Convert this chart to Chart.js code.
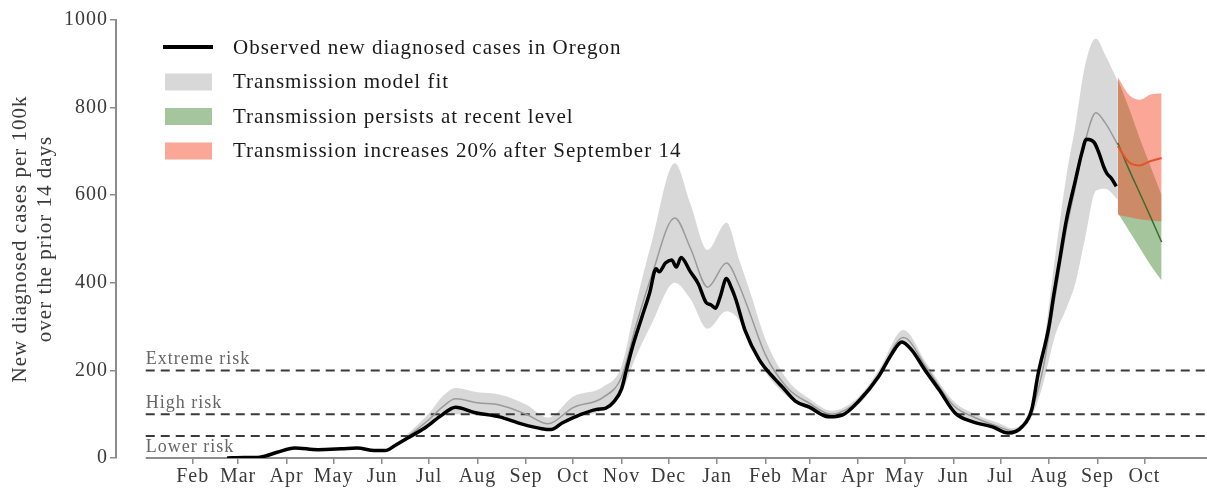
<!DOCTYPE html>
<html>
<head>
<meta charset="utf-8">
<script src="https://cdn.jsdelivr.net/npm/chart.js@4/dist/chart.umd.min.js"></script>
<style>
  html, body { margin: 0; padding: 0; background: #fff; }
  canvas { display: block; }
</style>
</head>
<body>
<canvas id="oregonChart" width="1207" height="490"></canvas>
<script>
// observed 14-day case rate per 100k
const obsDates = ['2020-02-23','2020-03-05','2020-03-15','2020-03-26','2020-04-06','2020-04-21','2020-05-06','2020-05-16','2020-05-27','2020-06-03',
  '2020-06-09','2020-06-17','2020-06-28','2020-07-08','2020-07-18','2020-07-30','2020-08-15','2020-08-29','2020-09-11','2020-09-17',
  '2020-09-24','2020-10-05','2020-10-16','2020-10-22','2020-10-27','2020-11-01','2020-11-04','2020-11-08','2020-11-14','2020-11-19',
  '2020-11-23','2020-11-25','2020-11-29','2020-12-03','2020-12-06','2020-12-09','2020-12-15','2020-12-20','2020-12-25','2020-12-28',
  '2020-12-31','2021-01-03','2021-01-07','2021-01-10','2021-01-13','2021-01-19','2021-01-28','2021-02-07','2021-02-11','2021-02-20',
  '2021-03-01','2021-03-13','2021-03-22','2021-04-02','2021-04-14','2021-04-23','2021-04-29','2021-05-05','2021-05-14','2021-05-23',
  '2021-06-02','2021-06-13','2021-06-26','2021-07-06','2021-07-15','2021-07-21','2021-07-25','2021-08-01','2021-08-04','2021-08-08',
  '2021-08-12','2021-08-18','2021-08-22','2021-08-25','2021-08-30','2021-09-02','2021-09-05','2021-09-07','2021-09-10','2021-09-13'];
const obsValues = [0, 1, 2, 13, 23, 19, 21, 23, 17, 17,
  28, 45, 68, 95, 116, 104, 94, 78, 67, 65,
  80, 98, 111, 114, 128, 158, 200, 254, 322, 378,
  432, 425, 445, 452, 436, 458, 425, 398, 355, 350,
  342, 368, 410, 390, 362, 290, 224, 180, 165, 130,
  116, 94, 98, 132, 185, 240, 265, 248, 200, 155,
  103, 83, 71, 57, 72, 110, 190, 300, 370, 455,
  540, 635, 696, 728, 720, 696, 665, 650, 638, 620];

// transmission model fit (mean and band)
const fitDates = ['2020-06-15','2020-07-01','2020-07-10','2020-07-18','2020-08-01','2020-08-15','2020-09-01','2020-09-15','2020-10-01','2020-10-20',
  '2020-11-01','2020-11-10','2020-11-20','2020-12-05','2020-12-15','2020-12-26','2021-01-07','2021-01-15','2021-01-22','2021-02-01',
  '2021-02-15','2021-03-01','2021-03-15','2021-04-01','2021-04-15','2021-04-30','2021-05-15','2021-06-01','2021-06-15','2021-07-01',
  '2021-07-08','2021-07-20','2021-07-28','2021-08-05','2021-08-12','2021-08-18','2021-08-24','2021-08-31','2021-09-06','2021-09-14'];
const fitMean = [42, 88, 118, 135, 126, 121, 100, 78, 115, 138,
  185, 300, 414, 548, 479, 390, 445, 395, 330, 235,
  160, 125, 100, 130, 195, 275, 205, 120, 92, 70,
  62, 100, 200, 370, 520, 620, 720, 788, 765, 715];
const fitUpper = [47, 102, 142, 160, 150, 145, 122, 92, 140, 162,
  210, 350, 490, 673, 580, 475, 537, 454, 380, 270,
  178, 135, 108, 138, 205, 292, 215, 130, 100, 78,
  68, 112, 240, 460, 640, 760, 895, 958, 920, 860];
const fitLower = [37, 74, 96, 100, 98, 92, 78, 64, 92, 110,
  150, 230, 305, 400, 363, 295, 335, 315, 260, 195,
  140, 110, 90, 120, 183, 260, 193, 105, 82, 62,
  55, 88, 165, 280, 340, 400, 500, 610, 615, 590];

// projections after September 14
const projDates = ['2021-09-14','2021-09-21','2021-09-28','2021-10-05','2021-10-12'];
const persistMean = [719, 660, 605, 550, 493];
const persistUpper = [865, 800, 730, 665, 600];
const persistLower = [560, 520, 480, 440, 405];
const increaseMean = [712, 676, 668, 678, 685];
const increaseUpper = [870, 830, 818, 830, 833];
const increaseLower = [555, 550, 545, 542, 540];

// risk thresholds
const riskLevels = [200, 100, 50];
const riskLabels = ['Extreme risk', 'High risk', 'Lower risk'];

// axis ticks
const monthTicks = ['2020-02-01','2020-03-01','2020-04-01','2020-05-01','2020-06-01','2020-07-01','2020-08-01','2020-09-01','2020-10-01','2020-11-01',
  '2020-12-01','2021-01-01','2021-02-01','2021-03-01','2021-04-01','2021-05-01','2021-06-01','2021-07-01','2021-08-01','2021-09-01','2021-10-01'];
const monthLabels = ['Feb','Mar','Apr','May','Jun','Jul','Aug','Sep','Oct','Nov','Dec','Jan','Feb','Mar','Apr','May','Jun','Jul','Aug','Sep','Oct'];
const yTicks = [0, 200, 400, 600, 800, 1000];

const legendLabels = ['Observed new diagnosed cases in Oregon', 'Transmission model fit',
  'Transmission persists at recent level', 'Transmission increases 20% after September 14'];

const xStart = '2019-12-14';
const xAxisStart = '2020-01-02';
const xEnd = '2021-11-10';

const ORIGIN = Date.parse('2020-02-01');
function dayNum(s) { return (Date.parse(s) - ORIGIN) / 86400000; }
function pts(dates, vals) { return dates.map((d, i) => ({ x: dayNum(d), y: vals[i] })); }

const FONT = "'Liberation Serif', 'Times New Roman', serif";
const GREY_FILL = 'rgba(190,190,190,0.6)';
const GREEN_FILL = 'rgba(76,140,60,0.5)';
const RED_FILL = 'rgba(245,80,50,0.5)';

function band(dates, upper, lower, color, order) {
  return [
    { data: pts(dates, upper), borderWidth: 0, pointRadius: 0, fill: '+1', backgroundColor: color, order: order, cubicInterpolationMode: 'monotone' },
    { data: pts(dates, lower), borderWidth: 0, pointRadius: 0, fill: false, order: order, cubicInterpolationMode: 'monotone' }
  ];
}

const riskSets = riskLevels.map(v => ({
  data: [{ x: dayNum(xAxisStart), y: v }, { x: dayNum(xEnd), y: v }],
  borderColor: '#3a3a3a', borderWidth: 2, borderDash: [9, 6], pointRadius: 0, fill: false, order: 5
}));

// extra drawing: wider letter spacing, x spine, risk labels, legend
const decorPlugin = {
  id: 'decor',
  beforeLayout(chart) { chart.ctx.letterSpacing = '1px'; },
  beforeDraw(chart) { chart.ctx.letterSpacing = '1px'; },
  beforeDatasetsDraw(chart) {
    const ctx = chart.ctx, xs = chart.scales.x, ys = chart.scales.y;
    ctx.save();
    ctx.strokeStyle = '#8c8c8c';
    ctx.lineWidth = 2;
    ctx.beginPath();
    ctx.moveTo(xs.getPixelForValue(dayNum(xAxisStart)), ys.getPixelForValue(0));
    ctx.lineTo(chart.chartArea.right, ys.getPixelForValue(0));
    ctx.stroke();
    ctx.restore();
  },
  afterDatasetsDraw(chart) {
    const ctx = chart.ctx, xs = chart.scales.x, ys = chart.scales.y;
    ctx.save();
    ctx.font = '18px ' + FONT;
    ctx.fillStyle = '#666';
    ctx.textAlign = 'left';
    const x0 = xs.getPixelForValue(dayNum(xAxisStart));
    riskLevels.forEach((v, i) => {
      const y = ys.getPixelForValue(v);
      // the lowest label sits just under its line
      if (i === riskLevels.length - 1) {
        ctx.textBaseline = 'top';
        ctx.fillText(riskLabels[i], x0, y + 2);
      } else {
        ctx.textBaseline = 'alphabetic';
        ctx.fillText(riskLabels[i], x0, y - 6);
      }
    });
    ctx.restore();
  },
  afterDraw(chart) {
    const ctx = chart.ctx;
    const swatches = [
      { type: 'line', color: '#000' },
      { type: 'box', color: GREY_FILL },
      { type: 'box', color: GREEN_FILL },
      { type: 'box', color: RED_FILL }
    ];
    ctx.save();
    ctx.font = '21px ' + FONT;
    ctx.textBaseline = 'middle';
    ctx.textAlign = 'left';
    legendLabels.forEach((txt, i) => {
      const y = 47 + i * 34.5;
      const s = swatches[i];
      if (s.type === 'line') {
        ctx.strokeStyle = s.color;
        ctx.lineWidth = 4;
        ctx.beginPath();
        ctx.moveTo(163, y);
        ctx.lineTo(213, y);
        ctx.stroke();
      } else {
        ctx.fillStyle = s.color;
        ctx.fillRect(165, y - 8, 47, 17);
      }
      ctx.fillStyle = '#1a1a1a';
      ctx.fillText(txt, 233, y + 1);
    });
    ctx.restore();
  }
};

document.addEventListener('DOMContentLoaded', function() {
  const ctx = document.getElementById('oregonChart').getContext('2d');

  const datasets = [
    { data: pts(obsDates, obsValues), borderColor: '#000', borderWidth: 3.5, pointRadius: 0, fill: false, order: 0, cubicInterpolationMode: 'monotone' },
    { data: pts(projDates, increaseMean), borderColor: '#e4532c', borderWidth: 2, pointRadius: 0, fill: false, order: 1, cubicInterpolationMode: 'monotone' },
    { data: pts(projDates, persistMean), borderColor: '#3d6a33', borderWidth: 1.5, pointRadius: 0, fill: false, order: 1, cubicInterpolationMode: 'monotone' },
    ...band(projDates, increaseUpper, increaseLower, RED_FILL, 2),
    ...band(projDates, persistUpper, persistLower, GREEN_FILL, 3),
    { data: pts(fitDates, fitMean), borderColor: '#9a9a9a', borderWidth: 1.5, pointRadius: 0, fill: false, order: 4, cubicInterpolationMode: 'monotone' },
    ...riskSets,
    ...band(fitDates, fitUpper, fitLower, GREY_FILL, 6)
  ];

  new Chart(ctx, {
    type: 'line',
    data: { datasets: datasets },
    options: {
      responsive: false,
      devicePixelRatio: 1,
      animation: false,
      layout: { padding: { top: 20, left: 0, right: 0, bottom: 0 } },
      plugins: { legend: { display: false }, tooltip: { enabled: false } },
      scales: {
        x: {
          type: 'linear',
          min: dayNum(xStart),
          max: dayNum(xEnd),
          afterBuildTicks: (scale) => { scale.ticks = monthTicks.map(d => ({ value: dayNum(d) })); },
          afterFit: (scale) => { scale.height = 32; },
          ticks: {
            autoSkip: false, maxRotation: 0, padding: 1,
            color: '#3a3a3a', font: { family: FONT, size: 20 },
            callback: (v, i) => monthLabels[i]
          },
          grid: { display: true, drawOnChartArea: false, drawTicks: true, tickLength: 6, color: '#8c8c8c', lineWidth: 1.5 },
          border: { display: false }
        },
        y: {
          min: 0, max: 1000,
          afterBuildTicks: (scale) => { scale.ticks = yTicks.map(v => ({ value: v })); },
          afterFit: (scale) => { scale.width = 116; },
          ticks: { padding: 2, color: '#3a3a3a', font: { family: FONT, size: 20 }, callback: (v) => String(v) },
          grid: { display: true, drawOnChartArea: false, drawTicks: true, tickLength: 6, color: '#8c8c8c', lineWidth: 1.5 },
          border: { display: true, color: '#8c8c8c', width: 2 },
          title: {
            display: true,
            text: ['New diagnosed cases per 100k', 'over the prior 14 days'],
            color: '#3a3a3a',
            font: { family: FONT, size: 21, lineHeight: 1.2 },
            padding: { top: 8, bottom: 0 }
          }
        }
      }
    },
    plugins: [decorPlugin]
  });
});
</script>
</body>
</html>
